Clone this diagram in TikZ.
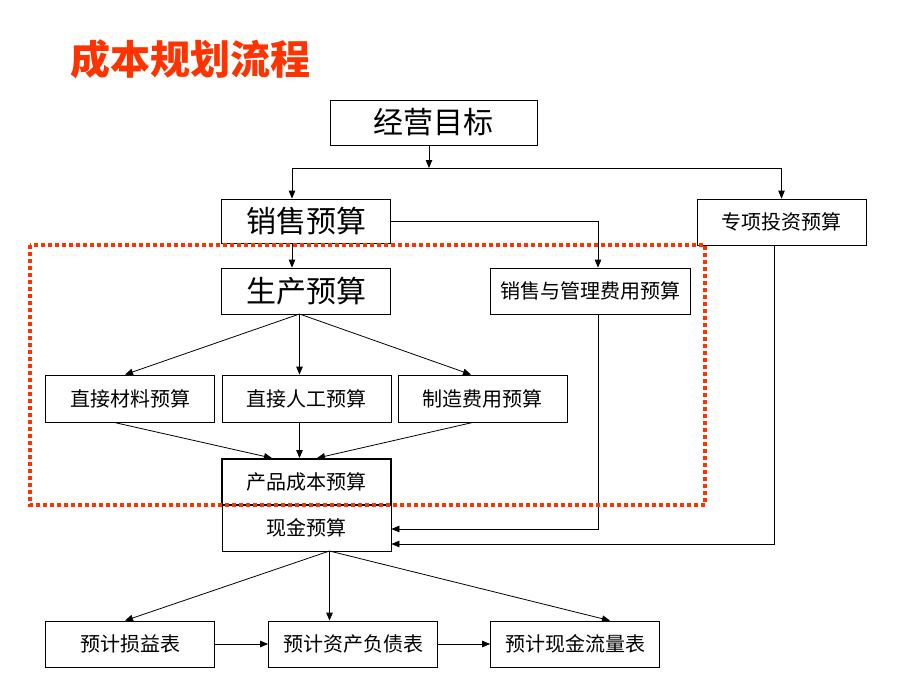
\documentclass[tikz,border=0pt]{standalone}
\usepackage{fontspec}
\setmainfont{Noto Sans CJK SC}
\usetikzlibrary{arrows.meta}

\definecolor{titlered}{HTML}{FF3300}

\begin{document}
\begin{tikzpicture}[x=1pt,y=-1pt,>={Triangle[length=8pt,width=6.5pt]},line width=0.8pt]
\useasboundingbox (0,0) rectangle (920,690);
\tikzstyle{every node}=[draw,minimum width=169pt,minimum height=46pt,inner sep=0pt,font=\fontsize{20}{24}\selectfont];
\tikzstyle{big}=[font=\fontsize{30}{36}\selectfont];

\node[draw=none,text=titlered,font=\fontsize{40}{48}\bfseries\selectfont] (title) at (190,59) {成本规划流程};

% top part
\node[big,minimum width=207pt,minimum height=45pt] (goal) at (433.5,122.5) {经营目标};
\node[big,minimum height=44pt] (sales) at (306,221) {销售预算};
\node (invest) at (781.5,222) {专项投资预算};
\node[big] (prod) at (306,291) {生产预算};
\node[minimum width=200pt] (admin) at (590,291) {销售与管理费用预算};

% middle row
\node[minimum height=47pt] (mat) at (130,398.5) {直接材料预算};
\node[minimum height=47pt] (lab) at (306.5,398.5) {直接人工预算};
\node[minimum height=47pt] (ovh) at (482.5,398.5) {制造费用预算};

\node[line width=1.8pt] (cost) at (306.5,482) {产品成本预算};
\node (cash) at (306.5,528) {现金预算};

% statements
\node (pl) at (130,644) {预计损益表};
\node (bs) at (353,644) {预计资产负债表};
\node (cf) at (575,644) {预计现金流量表};

\coordinate (split) at (429,168);
\coordinate (ps) at (299.5,314);
\coordinate (cs) at (329.5,551);

\draw[->] (goal.south -| split) -- (split);
\draw[->] (split) -| ([xshift=-14pt]sales.north);
\draw[->] (split) -| (invest.north);
\draw[->] ([xshift=-14pt]sales.south) -- ([xshift=-14pt]prod.north);
\draw[->] (sales.east) -| ([xshift=8pt]admin.north);

\draw[->] (ps) -- ([xshift=-5pt]mat.north);
\draw[->] (ps) -- (ps |- lab.north);
\draw[->] (ps) -- ([xshift=-11.5pt]ovh.north);

\draw[->] ([xshift=-16pt]mat.south) -- ([xshift=-34.5pt]cost.north);
\draw[->] (ps |- lab.south) -- (ps |- cost.north);
\draw[->] ([xshift=-9.5pt]ovh.south) -- ([xshift=10.5pt]cost.north);

\draw[->] ([xshift=8pt]admin.south) |- ([yshift=-1pt]cash.east);
\draw[->] ([xshift=-7.5pt]invest.south) |- ([yshift=-16pt]cash.east);

\draw[->] (cs) -- ([xshift=-5pt]pl.north);
\draw[->] (cs) -- (cs |- bs.north);
\draw[->] (cs) -- ([xshift=35pt]cf.north);

\draw[->] (pl.east) -- (bs.west);
\draw[->] (bs.east) -- (cf.west);

% dotted frame
\draw[titlered,line width=4pt,dash pattern=on 4pt off 3pt] (30,245) rectangle (705,505);
\end{tikzpicture}
\end{document}
